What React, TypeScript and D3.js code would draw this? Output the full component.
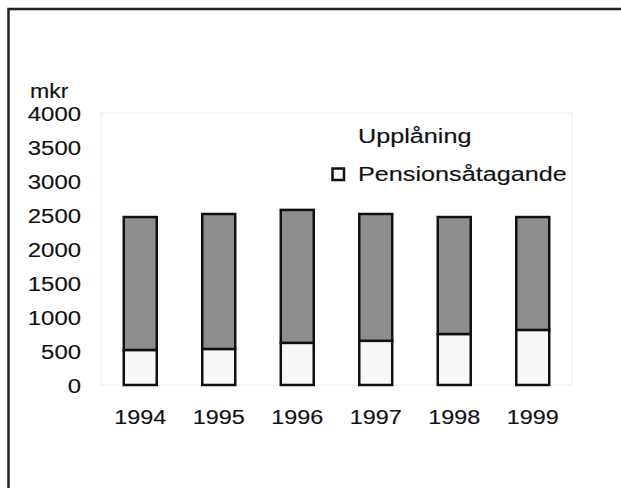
import React, { useEffect, useRef } from 'react';
import * as d3 from 'd3';

const years = ['1994', '1995', '1996', '1997', '1998', '1999'];
const pension = [515, 530, 620, 650, 750, 810];
const borrowing = [1955, 1985, 1955, 1865, 1720, 1660];
const yTicks = [0, 500, 1000, 1500, 2000, 2500, 3000, 3500, 4000];
const seriesNames = ['Upplåning', 'Pensionsåtagande'];

const W = 621;
const H = 488;
const FONT = '"Liberation Sans", Arial, sans-serif';
const DARK = '#8e8e8e';
const LIGHT = '#f7f7f7';

function draw(node: SVGSVGElement) {
  const svg = d3.select(node);
  svg.selectAll('*').remove();

  const plot = { left: 101, right: 572, top: 113, bottom: 385 };
  const x = d3.scaleBand<string>()
    .domain(years)
    .range([plot.left, plot.right])
    .paddingInner(0.58)
    .paddingOuter(0.29);
  const y = d3.scaleLinear().domain([0, 4000]).range([plot.bottom, plot.top]);

  // frame (only left and top edges are visible in the scan)
  svg.append('rect')
    .attr('x', 8.5).attr('y', 9)
    .attr('width', W + 20).attr('height', H + 20)
    .attr('fill', 'none').attr('stroke', '#222').attr('stroke-width', 2.5);

  // faint plot box
  svg.append('rect')
    .attr('x', plot.left).attr('y', plot.top)
    .attr('width', plot.right - plot.left).attr('height', plot.bottom - plot.top)
    .attr('fill', 'none').attr('stroke', '#ececec').attr('stroke-width', 1);

  const label = (g: any, tx: number, ty: number, text: string, anchor: string, sx: number, size = 21) =>
    g.append('text')
      .attr('transform', `translate(${tx},${ty}) scale(${sx},1)`)
      .attr('text-anchor', anchor)
      .attr('font-family', FONT)
      .attr('font-size', size)
      .attr('fill', '#111')
      .attr('stroke', '#111')
      .attr('stroke-width', 0.15)
      .text(text);

  // y axis labels
  label(svg, 30, 98, 'mkr', 'start', 1.1);
  yTicks.forEach((t) => label(svg, 81, y(t) + 7.5, String(t), 'end', 1.14));

  // x axis labels
  years.forEach((yr) => label(svg, (x(yr) as number) + x.bandwidth() / 2, 424, yr, 'middle', 1.2, 19.5));

  // stacked bars
  const stackData = years.map((yr, i) => ({ year: yr, pension: pension[i], borrowing: borrowing[i] }));
  const stacked = d3.stack<any>().keys(['pension', 'borrowing'])(stackData);
  const fills: Record<string, string> = { pension: LIGHT, borrowing: DARK };

  stacked.forEach((layer) => {
    svg.append('g')
      .selectAll('rect')
      .data(layer)
      .join('rect')
      .attr('x', (d: any) => x(d.data.year) as number)
      .attr('y', (d: any) => y(d[1]))
      .attr('width', x.bandwidth())
      .attr('height', (d: any) => y(d[0]) - y(d[1]))
      .attr('fill', fills[layer.key])
      .attr('stroke', '#111')
      .attr('stroke-width', 2.5);
  });

  // legend
  label(svg, 358, 143, seriesNames[0], 'start', 1.2);
  svg.append('rect')
    .attr('x', 332.5).attr('y', 168.5).attr('width', 11.5).attr('height', 11.5)
    .attr('fill', LIGHT).attr('stroke', '#111').attr('stroke-width', 2.5);
  label(svg, 358, 181, seriesNames[1], 'start', 1.2);
}

export default function App() {
  const ref = useRef<SVGSVGElement>(null);
  useEffect(() => {
    if (ref.current) draw(ref.current);
  }, []);
  return (
    <svg
      ref={ref}
      width={W}
      height={H}
      style={{ position: 'absolute', left: 0, top: 0, background: '#fff' }}
    />
  );
}
